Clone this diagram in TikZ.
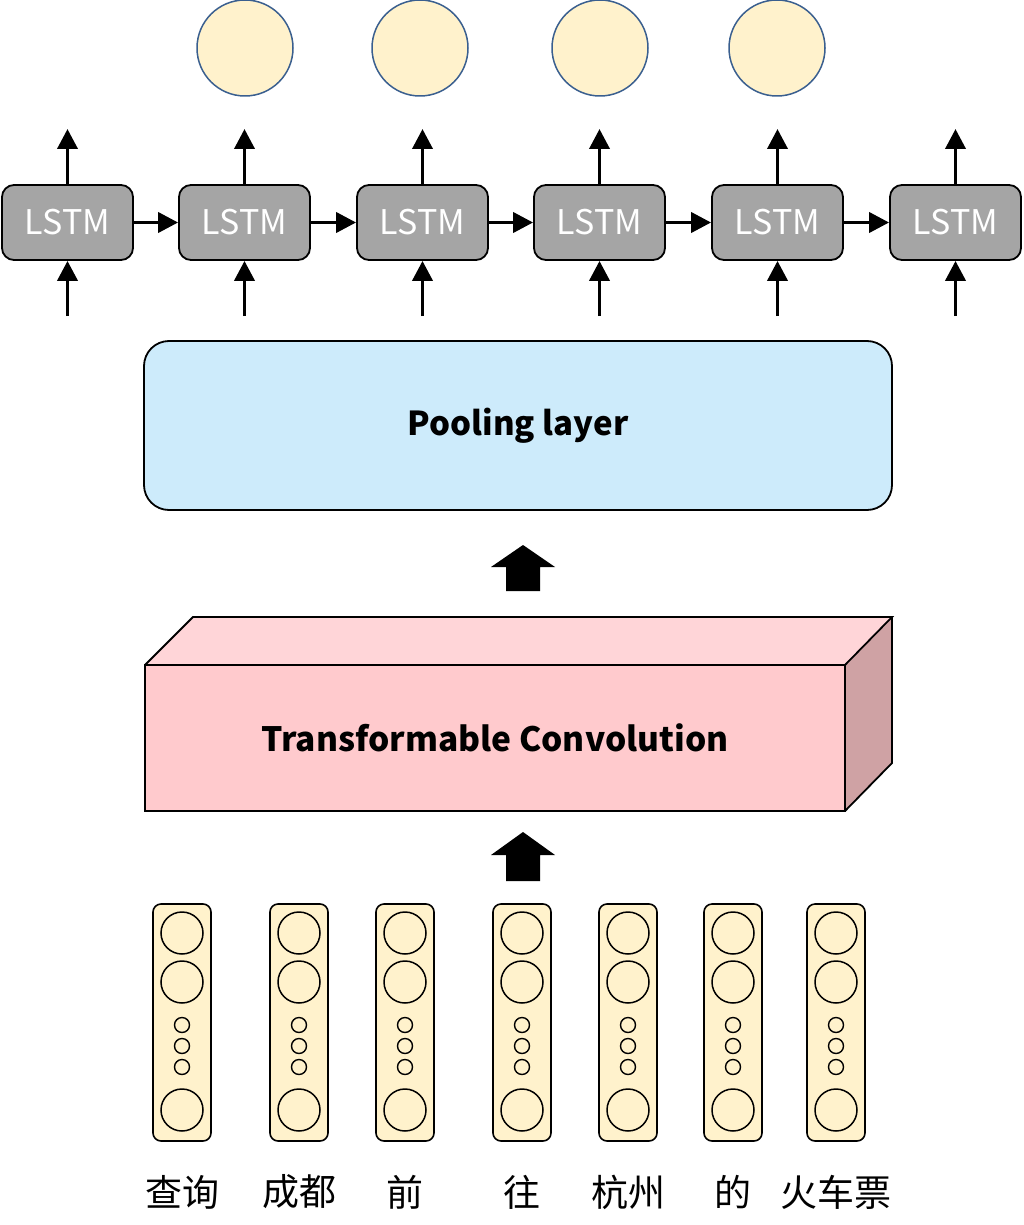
\documentclass[tikz,border=0pt]{standalone}
\usepackage{fontspec}
\newfontfamily\cjk{Noto Sans CJK SC}
\usetikzlibrary{arrows.meta}
\definecolor{lstmgray}{HTML}{A5A5A5}
\definecolor{poolblue}{HTML}{CDEBFB}
\definecolor{cream}{HTML}{FFF2CC}
\definecolor{circblue}{HTML}{3A5F8F}
\definecolor{pinkfront}{HTML}{FFCACD}
\definecolor{pinktop}{HTML}{FFD5D8}
\definecolor{pinkside}{HTML}{CFA2A4}
\tikzset{
  lstm/.style={draw=black, line width=1.8pt, fill=lstmgray, rounded corners=12pt,
    minimum width=131pt, minimum height=75pt, inner sep=0pt, text=white,
    font=\cjk\fontsize{34}{34}\selectfont},
  outc/.style={circle, draw=circblue, line width=1.5pt, fill=cream, minimum size=96pt, inner sep=0pt},
  emb/.style={draw=black, line width=1.6pt, fill=cream, rounded corners=8pt,
    minimum width=58pt, minimum height=237pt, inner sep=0pt},
  bigc/.style={circle, draw=black, line width=1.5pt, minimum size=42pt, inner sep=0pt},
  smallc/.style={circle, draw=black, line width=1.4pt, minimum size=15pt, inner sep=0pt},
  arr/.style={line width=3.8pt, -{Triangle[length=20pt,width=20pt]}},
  word/.style={font=\cjk\fontsize{37}{37}\selectfont, inner sep=0pt},
  blockarrow/.style={fill=black, draw=none},
}
\begin{document}
\begin{tikzpicture}[x=1pt,y=-1pt]
\useasboundingbox (0,0) rectangle (1024,1225);
% LSTM row
\foreach \i/\x in {1/67.5,2/244.5,3/422.5,4/599.5,5/777.5,6/955.5}{
  \node[lstm] (l\i) at (\x,222.5) {LSTM};
  \coordinate (in\i) at (\x,316);
  \coordinate (out\i) at (\x,129);
  \draw[arr] (in\i) -- (l\i.south);
  \draw[arr] (l\i.north) -- (out\i);
}
\foreach \i/\j in {1/2,2/3,3/4,4/5,5/6}{
  \draw[arr] (l\i.east) -- (l\j.west);
}
% output circles
\node[outc] (o2) at (245,48) {};
\node[outc] (o3) at (420,48) {};
\node[outc] (o4) at (600,48) {};
\node[outc] (o5) at (777,48) {};
% pooling layer
\node[draw=black, line width=1.8pt, fill=poolblue, rounded corners=25pt,
  minimum width=748pt, minimum height=169pt, inner sep=0pt,
  font=\cjk\bfseries\fontsize{33}{33}\selectfont] (pool) at (518,425.5) {Pooling layer};
% block arrow 1
\coordinate (ba1) at (523,545);
\fill[blockarrow] (ba1) -- ++(32,22) -- ++(-15,0) -- ++(0,24) -- ++(-34,0) -- ++(0,-24) -- ++(-15,0) -- cycle;
% 3D conv box
\coordinate (fa) at (145,665);
\coordinate (fb) at (845,665);
\coordinate (fc) at (845,811);
\coordinate (fd) at (145,811);
\fill[pinktop] (fa) -- ++(48,-48) -- (892,617) -- (fb) -- cycle;
\fill[pinkside] (fb) -- (892,617) -- (892,763) -- (fc) -- cycle;
\draw[line width=1.8pt, line join=miter] (fa) -- ++(48,-48) -- (892,617) -- (fb);
\draw[line width=1.8pt] (892,617) -- (892,763) -- (fc);
\node[draw=black, line width=1.8pt, fill=pinkfront, minimum width=700pt, minimum height=146pt, inner sep=0pt,
  font=\cjk\bfseries\fontsize{33.5}{33.5}\selectfont] (conv) at (495,738) {Transformable Convolution};
% block arrow 2
\coordinate (ba2) at (523,832);
\fill[blockarrow] (ba2) -- ++(32,23) -- ++(-15,0) -- ++(0,26) -- ++(-34,0) -- ++(0,-26) -- ++(-15,0) -- cycle;
% embeddings
\foreach \i/\x/\w in {1/182/查询,2/299/成都,3/405/前,4/522/往,5/628/杭州,6/733/的,7/836/火车票}{
  \node[emb] (e\i) at (\x,1022.5) {};
  \node[bigc] (e\i a) at (\x,933) {};
  \node[bigc] (e\i b) at (\x,982) {};
  \node[smallc] (e\i c) at (\x,1025) {};
  \node[smallc] (e\i d) at (\x,1046) {};
  \node[smallc] (e\i e) at (\x,1067) {};
  \node[bigc] (e\i f) at (\x,1110) {};
  \node[word] (w\i) at (\x,1192) {\w};
}
\end{tikzpicture}
\end{document}
